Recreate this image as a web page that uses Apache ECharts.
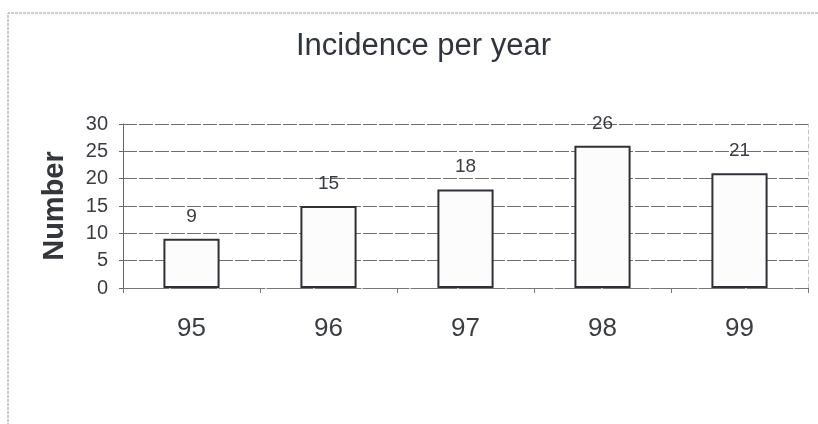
<!DOCTYPE html>
<html>
<head>
<meta charset="utf-8">
<script src="https://cdn.jsdelivr.net/npm/echarts@6/dist/echarts.min.js"></script>
<style>
  html, body { margin: 0; padding: 0; background: #fff; }
  #chart { width: 818px; height: 424px; }
</style>
</head>
<body>
<div id="chart"></div>
<script>
// Incidence counts by year
const years = ['95', '96', '97', '98', '99'];
const counts = [9, 15, 18, 26, 21];
const yTicks = [0, 5, 10, 15, 20, 25, 30];

const chart = echarts.init(document.getElementById('chart'), null, { renderer: 'canvas' });

chart.setOption({
  backgroundColor: '#ffffff',
  animation: false,
  graphic: [
    {
      type: 'polyline',
      shape: { points: [[8, 430], [8, 13], [830, 13]] },
      style: { stroke: '#9a9a9a', lineWidth: 1, fill: null, lineDash: [3, 1] },
      silent: true
    },
    {
      type: 'text',
      left: 296,
      top: 31,
      style: {
        text: 'Incidence per year',
        fontFamily: 'Liberation Sans',
        fontSize: 31,
        fill: '#30353c'
      },
      silent: true
    }
  ],
  grid: { left: 123, right: 10, top: 124, bottom: 136, containLabel: false },
  xAxis: {
    type: 'category',
    data: years,
    axisLine: { show: true, lineStyle: { color: '#777', width: 1, type: [4, 2] } },
    axisTick: { show: true, alignWithLabel: false, length: 5, lineStyle: { color: '#777' } },
    axisLabel: {
      margin: 28,
      fontFamily: 'Liberation Sans',
      fontSize: 26,
      color: '#3a3d42'
    },
    splitLine: { show: false }
  },
  yAxis: [
    {
      type: 'value',
      min: 0,
      max: 30,
      interval: 5,
      name: 'Number',
      nameLocation: 'middle',
      nameGap: 54,
      nameRotate: 90,
      nameTextStyle: {
        fontFamily: 'Liberation Sans',
        fontSize: 29,
        fontWeight: 'bold',
        color: '#33363b'
      },
      axisLine: { show: true, lineStyle: { color: '#666', width: 1 } },
      axisTick: { show: true, length: 4, lineStyle: { color: '#666' } },
      axisLabel: {
        margin: 15,
        fontFamily: 'Liberation Sans',
        fontSize: 20,
        color: '#3a3d42',
        formatter: v => (yTicks.includes(v) ? String(v) : '')
      },
      splitLine: { show: true, lineStyle: { color: '#6e6e6e', width: 1, type: [14, 2] } }
    },
    {
      type: 'value',
      min: 0,
      max: 30,
      interval: 5,
      position: 'right',
      axisLine: { show: true, lineStyle: { color: '#c4c4c4', width: 1, type: [4, 3] } },
      axisTick: { show: false },
      axisLabel: { show: false },
      splitLine: { show: false }
    }
  ],
  series: [
    {
      type: 'bar',
      data: counts,
      yAxisIndex: 0,
      barWidth: '41%',
      itemStyle: {
        color: '#fcfcfc',
        borderColor: '#2e3136',
        borderWidth: 2
      },
      label: {
        show: true,
        position: 'top',
        distance: 13,
        fontFamily: 'Liberation Sans',
        fontSize: 19,
        color: '#3a3d42'
      }
    }
  ]
});
</script>
</body>
</html>
